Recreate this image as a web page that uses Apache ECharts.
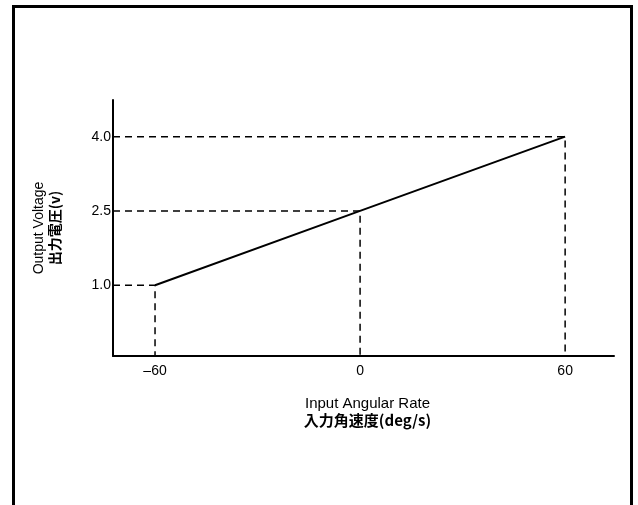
<!DOCTYPE html>
<html>
<head>
<meta charset="utf-8">
<script src="https://cdn.jsdelivr.net/npm/echarts@6/dist/echarts.min.js"></script>
<style>html,body{margin:0;padding:0;background:#fff;}#c{width:638px;height:505px;}</style>
</head>
<body>
<div id="c"></div>
<script>
const rates = [-60, 0, 60];
const voltages = [1.0, 2.5, 4.0];
const xTickValues = [-60, 0, 60];
const yTickValues = [1.0, 2.5, 4.0];
const xTitle = ['Input Angular Rate', '入力角速度(deg/s)'];
const yTitle = ['Output Voltage', '出力電圧(v)'];

const X_MIN = -72.3, X_MAX = 74.3, Y_MIN = -0.43, Y_MAX = 4.74;

const chart = echarts.init(document.getElementById('c'), null, {renderer: 'canvas'});
const mainData = rates.map((r, i) => [r, voltages[i]]);
const guideSeries = rates.map((r, i) => ({
  type: 'line',
  data: [[X_MIN, voltages[i]], [r, voltages[i]], [r, Y_MIN]],
  symbol: 'none',
  silent: true,
  lineStyle: {color: '#000', width: 1.5, type: [7, 5]},
  z: 1
}));

chart.setOption({
  animation: false,
  backgroundColor: '#fff',
  textStyle: {fontFamily: 'Liberation Sans, Arial, sans-serif'},
  grid: {left: 113, top: 100, width: 501, height: 256, containLabel: false},
  xAxis: {
    type: 'value', min: X_MIN, max: X_MAX,
    axisLine: {show: true, onZero: false, lineStyle: {color: '#000', width: 2}},
    axisTick: {show: false},
    splitLine: {show: false},
    axisLabel: {customValues: xTickValues, color: '#000', fontSize: 14, margin: 8,
      formatter: v => String(v).replace('-', '–')},
    name: '{a|' + xTitle[0] + '}\n{b|' + xTitle[1] + '}',
    nameLocation: 'middle', nameGap: 39,
    nameTextStyle: {
      rich: {
        a: {fontFamily: 'Liberation Sans, Arial, sans-serif', fontSize: 15, color: '#000', lineHeight: 17, padding: [0, 0, 0, 8]},
        b: {fontFamily: 'Noto Sans CJK JP, sans-serif', fontSize: 15, fontWeight: 'bold', color: '#000', lineHeight: 17, padding: [0, 0, 0, 8]}
      }
    }
  },
  yAxis: {
    type: 'value', min: Y_MIN, max: Y_MAX,
    axisLine: {show: true, onZero: false, lineStyle: {color: '#000', width: 2}},
    axisTick: {show: false},
    splitLine: {show: false},
    axisLabel: {customValues: yTickValues, color: '#000', fontSize: 14, margin: 2,
      formatter: v => v.toFixed(1)},
    name: '{a|' + yTitle[0] + '}\n{b|' + yTitle[1] + '}',
    nameLocation: 'middle', nameGap: 50, nameRotate: 90,
    nameTextStyle: {
      rich: {
        a: {fontFamily: 'Liberation Sans, Arial, sans-serif', fontSize: 14, color: '#000', lineHeight: 16},
        b: {fontFamily: 'Noto Sans CJK JP, sans-serif', fontSize: 14, fontWeight: 'bold', color: '#000', lineHeight: 16}
      }
    }
  },
  graphic: [{
    type: 'polyline',
    shape: {points: [[13.5, 505], [13.5, 6.5], [631.5, 6.5], [631.5, 505]]},
    style: {stroke: '#000', lineWidth: 3, fill: null},
    silent: true
  }],
  series: guideSeries.concat([{
    type: 'line',
    data: mainData,
    symbol: 'none',
    lineStyle: {color: '#000', width: 2},
    z: 3
  }])
});
</script>
</body>
</html>
